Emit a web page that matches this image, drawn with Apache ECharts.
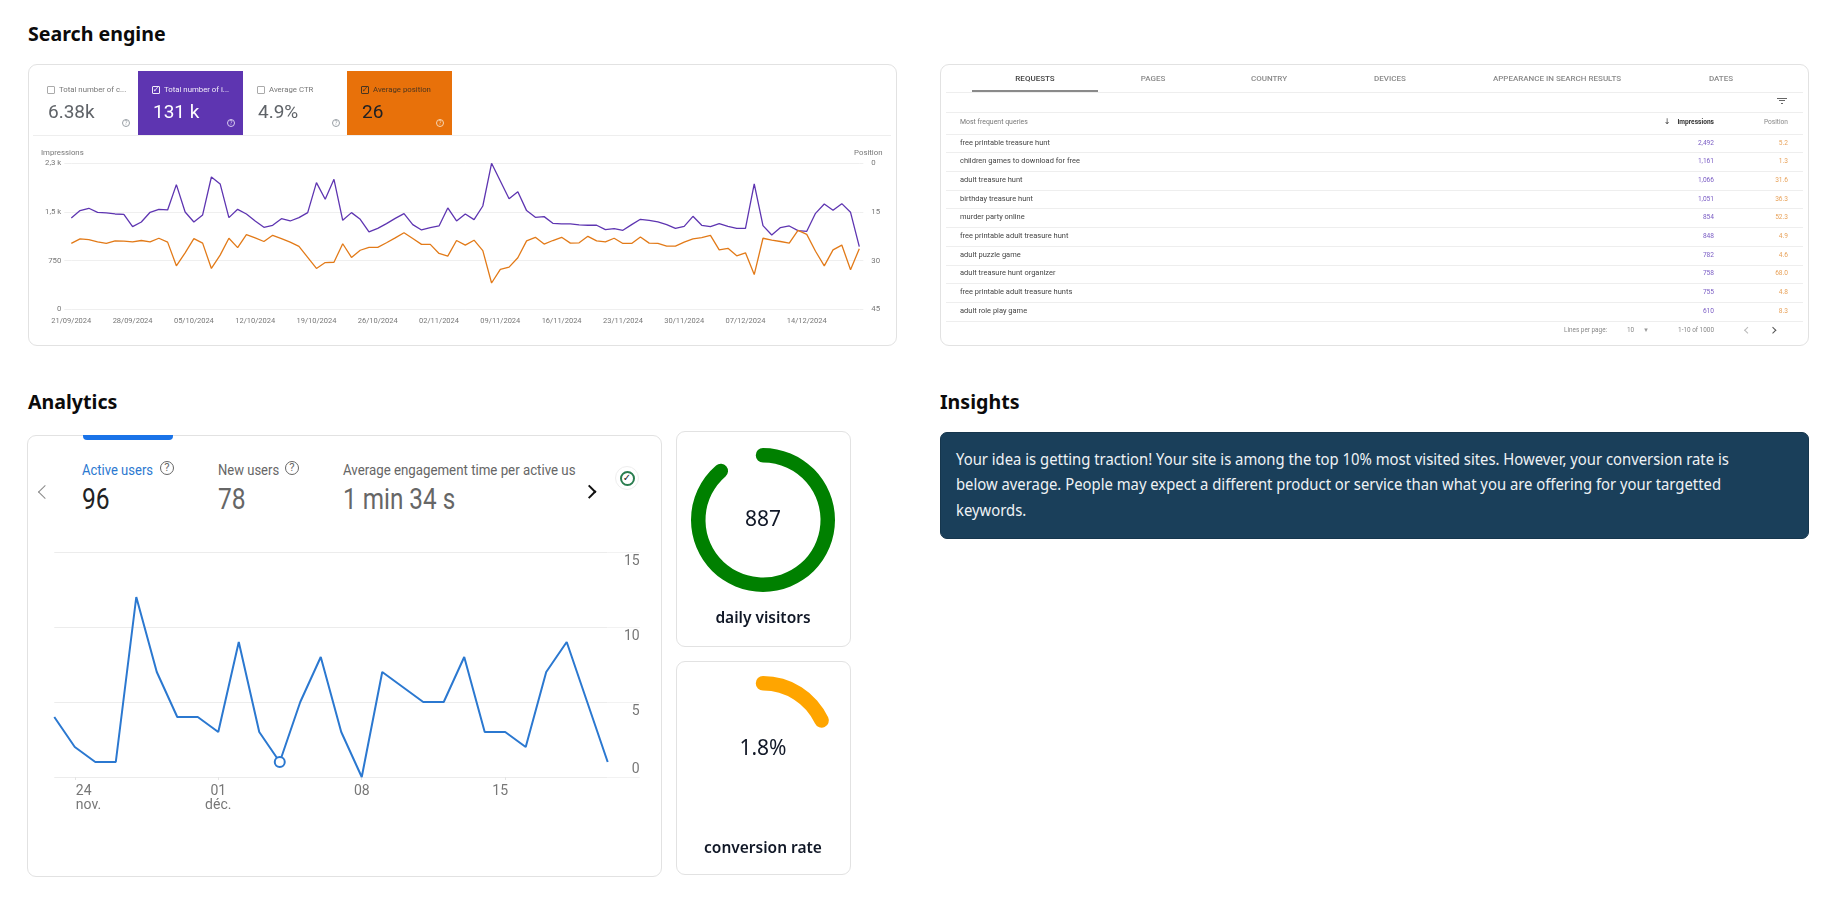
<!DOCTYPE html>
<html>
<head>
<meta charset="utf-8">
<title>Search engine dashboard</title>
<script src="https://cdn.jsdelivr.net/npm/echarts@6/dist/echarts.min.js"></script>
<style>
html, body { margin: 0; padding: 0; background: #fff; overflow: hidden; }
body { width: 1836px; height: 904px; position: relative; font-family: "Noto Sans", sans-serif; color: #111; }
.abs { position: absolute; white-space: nowrap; }
.card { position: absolute; box-sizing: border-box; border: 1px solid #e2e2e2; border-radius: 9px; background: #fff; }
.rule { position: absolute; height: 1px; background: #eeeeee; }
.chart { position: absolute; }
.soft { filter: blur(0.35px); }
</style>
</head>
<body>
<div id="layer"></div>
<div class="chart soft" id="searchChart" style="left:28px;top:140px;width:868px;height:205px"></div>
<div class="chart" id="usersChart" style="left:28px;top:540px;width:630px;height:300px"></div>
<div class="chart" id="visitorsGauge" style="left:677px;top:432px;width:173px;height:214px"></div>
<div class="chart" id="conversionGauge" style="left:677px;top:662px;width:173px;height:212px"></div>
<script>
// search console chart
var searchDates = [
  '21/09/2024','22/09/2024','23/09/2024','24/09/2024','25/09/2024','26/09/2024','27/09/2024',
  '28/09/2024','29/09/2024','30/09/2024','01/10/2024','02/10/2024','03/10/2024','04/10/2024',
  '05/10/2024','06/10/2024','07/10/2024','08/10/2024','09/10/2024','10/10/2024','11/10/2024',
  '12/10/2024','13/10/2024','14/10/2024','15/10/2024','16/10/2024','17/10/2024','18/10/2024',
  '19/10/2024','20/10/2024','21/10/2024','22/10/2024','23/10/2024','24/10/2024','25/10/2024',
  '26/10/2024','27/10/2024','28/10/2024','29/10/2024','30/10/2024','31/10/2024','01/11/2024',
  '02/11/2024','03/11/2024','04/11/2024','05/11/2024','06/11/2024','07/11/2024','08/11/2024',
  '09/11/2024','10/11/2024','11/11/2024','12/11/2024','13/11/2024','14/11/2024','15/11/2024',
  '16/11/2024','17/11/2024','18/11/2024','19/11/2024','20/11/2024','21/11/2024','22/11/2024',
  '23/11/2024','24/11/2024','25/11/2024','26/11/2024','27/11/2024','28/11/2024','29/11/2024',
  '30/11/2024','01/12/2024','02/12/2024','03/12/2024','04/12/2024','05/12/2024','06/12/2024',
  '07/12/2024','08/12/2024','09/12/2024','10/12/2024','11/12/2024','12/12/2024','13/12/2024',
  '14/12/2024','15/12/2024','16/12/2024','17/12/2024','18/12/2024','19/12/2024','20/12/2024'
];
var impressions = [
  1408,1521,1557,1495,1485,1469,1464,1274,1346,1495,
  1541,1531,1921,1500,1346,1454,2039,1932,1413,1541,
  1469,1361,1264,1295,1397,1361,1413,1490,1952,1695,
  2003,1372,1490,1387,1192,1248,1320,1402,1474,1305,
  1223,1259,1284,1562,1361,1469,1382,1592,2250,1978,
  1705,1813,1521,1418,1428,1325,1315,1315,1300,1295,
  1295,1228,1243,1217,1305,1387,1372,1346,1305,1248,
  1279,1433,1295,1274,1320,1279,1248,1248,1932,1289,
  1146,1259,1284,1212,1202,1479,1623,1526,1628,1495,
  966
];
var positions = [
  24.7,23.3,23.5,24.2,24.7,23.9,24.0,24.2,23.8,24.2,
  23.1,24.3,31.6,27.6,23.2,24.6,32.4,28.3,23.1,26.0,
  22.0,23.0,24.1,22.2,23.2,24.3,25.6,29.0,32.4,30.6,
  30.5,24.8,29.0,26.8,25.9,25.9,24.5,23.0,21.4,23.2,
  25.0,25.0,27.8,28.6,23.8,25.2,23.7,26.9,36.9,32.7,
  32.0,29.1,23.9,22.8,24.9,23.8,22.8,24.6,24.5,22.5,
  23.9,24.2,23.1,24.7,24.7,22.7,24.6,24.7,25.5,25.5,
  24.3,23.3,22.9,22.2,26.7,26.2,28.5,27.6,34.3,23.1,
  23.7,24.1,24.6,20.7,21.9,27.1,31.6,26.7,25.2,32.8,
  26.3
];
var impressionTicks = ['0', '750', '1,5 k', '2,3 k'];

// analytics chart
var userDays = [
  '23','24','25','26','27','28','29','30','01','02','03','04','05','06',
  '07','08','09','10','11','12','13','14','15','16','17','18','19','20'
];
var activeUsers = [4,2,1,1,12,7,4,4,3,9,3,1,5,8,3,0,7,6,5,5,8,3,3,2,7,9,5,1];
var hoveredDay = 11;

// queries table
var tabs = ['REQUESTS','PAGES','COUNTRY','DEVICES','APPEARANCE IN SEARCH RESULTS','DATES'];
var queries = [
  'free printable treasure hunt','children games to download for free','adult treasure hunt',
  'birthday treasure hunt','murder party online','free printable adult treasure hunt',
  'adult puzzle game','adult treasure hunt organizer','free printable adult treasure hunts',
  'adult role play game'
];
var queryImpressions = ['2,492','1,161','1,066','1,051','854','848','782','758','755','610'];
var queryPositions = ['5.2','1.3','31.6','36.3','52.3','4.9','4.6','68.0','4.8','8.3'];

// gauges
var dailyVisitors = 887, visitorsMax = 1000;
var conversionRate = 1.8, conversionMax = 10;

var PURPLE = '#5e35b1', ORANGE = '#e8710a', BLUE = '#2b78d0';
var layer = document.getElementById('layer');
var softText = false; // the screenshots in the cards are a bit blurry

function add(cls, css) {
  var d = document.createElement('div');
  d.className = cls;
  d.style.cssText = css;
  layer.appendChild(d);
  return d;
}
// y is the vertical centre of the text, x its left edge (or right edge with o.right, centre with o.mid)
function txt(s, x, y, o) {
  o = o || {};
  var tx = o.right ? 'translateX(-100%) ' : (o.mid ? 'translateX(-50%) ' : '');
  var d = add('abs', 'left:' + x + 'px;top:' + y + 'px;font-family:' + (o.font || 'Roboto') + ',sans-serif;' +
    'font-size:' + (o.size || 12) + 'px;font-weight:' + (o.weight || 400) + ';color:' + (o.color || '#111') + ';' +
    'line-height:1;transform-origin:left center;transform:' + tx + 'translateY(-50%)' + (o.sx ? ' scaleX(' + o.sx + ')' : '') +
    (softText ? ';filter:blur(.3px)' : ''));
  d.textContent = s;
  return d;
}
function box(x, y, w, h, css) {
  return add('abs', 'left:' + x + 'px;top:' + y + 'px;width:' + w + 'px;height:' + h + 'px;box-sizing:border-box;' + (css || ''));
}
function help(x, y, r, color) {
  box(x - r, y - r, 2 * r, 2 * r, 'border:1px solid ' + color + ';border-radius:50%');
  txt('?', x, y, { size: r * 1.6, color: color, mid: true });
}
function chevron(x, y, dir, color, w, s) {
  return box(x - s / 2, y - s / 2, s, s, 'border-top:' + w + 'px solid ' + color + ';border-left:' + w + 'px solid ' + color + ';' +
    'transform:rotate(' + (dir < 0 ? -45 : 135) + 'deg)');
}

// headings
var HEAD = { font: '"Noto Sans"', size: 19.6, weight: 700, color: '#0b0b0b' };
txt('Search engine', 28, 34, HEAD);
txt('Analytics', 28, 402, HEAD);
txt('Insights', 940, 402, HEAD);

// search console card
softText = true;
add('card', 'left:28px;top:64px;width:869px;height:282px');
add('rule', 'left:33px;top:135px;width:858px');
box(138, 71, 105, 64, 'background:' + PURPLE);
box(347, 71, 105, 64, 'background:' + ORANGE);
var tiles = [
  { x: 47, label: 'Total number of c...', value: '6.38k', text: '#5f6368', sub: '#777', ic: '#9aa0a6' },
  { x: 152, label: 'Total number of i...', value: '131 k', text: '#fff', sub: '#f1ecf9', ic: '#d9cdf0' },
  { x: 257, label: 'Average CTR', value: '4.9%', text: '#5f6368', sub: '#777', ic: '#9aa0a6' },
  { x: 361, label: 'Average position', value: '26', text: '#202124', sub: '#4a3520', ic: '#f6d6b4' }
];
tiles.forEach(function (t) {
  var checked = t.text !== '#5f6368';
  box(t.x, 86, 8, 8, 'border:1px solid ' + (checked ? t.sub : '#aaa') + ';border-radius:1px');
  if (checked) txt('✓', t.x + 4, 90, { size: 8, color: t.sub, mid: true, font: '"DejaVu Sans"' });
  txt(t.label, t.x + 12, 90, { size: 7.8, color: t.sub });
  txt(t.value, t.x + 1, 111, { size: 19, color: t.text });
  help(t.x + 79, 123, 4, t.ic);
});

// queries card
add('card', 'left:940px;top:64px;width:869px;height:282px');
var tabX = [1035, 1153, 1269, 1390, 1557, 1721];
tabs.forEach(function (t, i) {
  txt(t, tabX[i], 79, { size: 8, weight: 500, color: i === 0 ? '#444' : '#8a8a8a', mid: true });
});
box(972, 90, 126, 1.5, 'background:#8a8a8a');
[92, 112, 134].forEach(function (y) { add('rule', 'left:946px;width:857px;top:' + y + 'px'); });
[0, 1, 2].forEach(function (i) {
  box(1782 - (5 - i * 2), 98 + i * 2.3, (5 - i * 2) * 2, 1, 'background:#666');
});
txt('Most frequent queries', 960, 122, { size: 6.6, color: '#777', sx: 1.05 });
txt('Impressions', 1714, 122, { size: 6.6, weight: 700, color: '#333', right: true });
txt('↓', 1667, 122, { size: 8, color: '#333', mid: true, font: '"DejaVu Sans"' });
txt('Position', 1788, 122, { size: 6.6, color: '#888', right: true });
queries.forEach(function (q, i) {
  var y = 142.5 + i * 18.7;
  add('rule', 'left:946px;width:857px;top:' + (152 + i * 18.75) + 'px');
  txt(q, 960, y, { size: 6.8, color: '#444', sx: 1.1 });
  txt(queryImpressions[i], 1714, y, { size: 6.6, color: '#7a5cc4', right: true });
  txt(queryPositions[i], 1788, y, { size: 6.6, color: '#e8a25a', right: true });
});
txt('Lines per page:', 1564, 330, { size: 6.4, color: '#888' });
txt('10', 1627, 330, { size: 6.4, color: '#888' });
txt('▾', 1646, 330, { size: 7, color: '#999', mid: true, font: '"DejaVu Sans"' });
txt('1-10 of 1000', 1714, 330, { size: 6.4, color: '#888', right: true });
chevron(1747, 330, -1, '#bbb', 1, 4.5);
chevron(1773, 330, 1, '#555', 1, 4.5);

// analytics card
softText = false;
add('card', 'left:27px;top:435px;width:635px;height:442px');
box(83, 435, 90, 5, 'background:#1a73e8;border-radius:0 0 4px 4px');
chevron(45, 492, -1, '#8a8a8a', 1.6, 10);
chevron(590, 492, 1, '#111', 2, 9.5);
txt('Active users', 82, 470, { size: 14, color: BLUE, sx: 0.93 });
help(167, 468, 7, '#666');
txt('96', 82, 499, { size: 30, color: '#222', sx: 0.82 });
txt('New users', 218, 470, { size: 14, color: '#666', sx: 0.93 });
help(292, 468, 7, '#666');
txt('78', 218, 499, { size: 30, color: '#666', sx: 0.82 });
txt('Average engagement time per active us', 343, 470, { size: 14, color: '#666', sx: 0.948 });
txt('1 min 34 s', 343, 499, { size: 30, color: '#666', sx: 0.81 });
box(615, 466, 24, 24, 'border:1px solid #eee;border-radius:50%');
box(619.5, 470.5, 15, 15, 'border:2px solid #2a7d4f;border-radius:50%');
txt('✓', 627, 478, { size: 10, weight: 700, color: '#222', mid: true, font: '"DejaVu Sans"' });

// metric cards and insight box
add('card', 'left:676px;top:431px;width:175px;height:216px');
add('card', 'left:676px;top:661px;width:175px;height:214px');
box(940, 432, 869, 107, 'background:#1a3f5a;border-radius:7px;border:1px solid #16364d');
['Your idea is getting traction! Your site is among the top 10% most visited sites. However, your conversion rate is',
 'below average. People may expect a different product or service than what you are offering for your targetted',
 'keywords.'].forEach(function (l, i) {
  txt(l, 956, 460 + i * 25.3, { font: '"Noto Sans"', size: 15.5, color: '#eef2f5', sx: 0.957 });
});

var searchChart = echarts.init(document.getElementById('searchChart'));
searchChart.setOption({
  animation: false,
  textStyle: { fontFamily: 'Roboto' },
  grid: { left: 43.3, right: 36.7, top: 23.3, bottom: 35.7 },
  xAxis: {
    type: 'category', data: searchDates, boundaryGap: false,
    axisLine: { show: false }, axisTick: { show: false },
    axisLabel: { interval: 6, fontSize: 7.5, color: '#777', margin: 8 }
  },
  yAxis: [{
    type: 'value', min: 0, max: 2250, interval: 750,
    name: 'Impressions', nameLocation: 'end', nameGap: 6,
    nameTextStyle: { fontSize: 7.8, color: '#777', align: 'center', padding: [0, 18, 0, 0] },
    axisLine: { show: false },
    axisTick: { show: true, length: 7, lineStyle: { color: '#efefef' } },
    splitLine: { lineStyle: { color: '#efefef' } },
    axisLabel: { fontSize: 7.8, color: '#777', margin: 10, formatter: function (v) { return impressionTicks[v / 750]; } }
  }, {
    type: 'value', min: 0, max: 45, interval: 15, inverse: true, position: 'right',
    name: 'Position', nameLocation: 'start', nameGap: 6,
    nameTextStyle: { fontSize: 7.8, color: '#777', align: 'center', padding: [0, 0, 0, 18] },
    axisLine: { show: false },
    axisTick: { show: true, length: 4, lineStyle: { color: '#efefef' } },
    splitLine: { show: false },
    axisLabel: { fontSize: 7.8, color: '#777', margin: 12 }
  }],
  series: [
    { name: 'Impressions', type: 'line', data: impressions, yAxisIndex: 0, symbol: 'none', lineStyle: { width: 1.3, color: PURPLE } },
    { name: 'Position', type: 'line', data: positions, yAxisIndex: 1, symbol: 'none', lineStyle: { width: 1.3, color: '#e27a18' } }
  ]
});

var usersChart = echarts.init(document.getElementById('usersChart'));
var labelled = { '24': '{l|24}\n{l|nov.}', '01': '01\ndéc.', '08': '08', '15': '{r|15}' };
usersChart.setOption({
  animation: false,
  textStyle: { fontFamily: '"Liberation Sans Narrow", Roboto' },
  grid: { left: 26.3, right: 50.3, top: 12, bottom: 63 },
  xAxis: {
    type: 'category', data: userDays, boundaryGap: false,
    axisLine: { show: false },
    axisTick: { show: true, length: 3, lineStyle: { color: '#e4e4e4' }, interval: function (i, v) { return labelled[v] !== undefined; } },
    axisLabel: {
      fontSize: 14, color: '#777', margin: 7, lineHeight: 14,
      interval: function (i, v) { return labelled[v] !== undefined; },
      formatter: function (v) { return labelled[v]; },
      rich: {
        l: { fontSize: 14, color: '#777', lineHeight: 14, width: 24, align: 'left', padding: [0, 0, 0, 26] },
        r: { fontSize: 14, color: '#777', lineHeight: 14, padding: [0, 10, 0, 0] }
      }
    }
  },
  yAxis: {
    type: 'value', position: 'right', min: 0, max: 15, interval: 5,
    axisLine: { show: false },
    axisTick: { show: true, length: 32, lineStyle: { color: '#f2f2f2' } },
    splitLine: { lineStyle: { color: '#ececec' } },
    axisLabel: {
      fontSize: 14, color: '#777', align: 'right', margin: 32,
      verticalAlign: 'top', verticalAlignMinLabel: 'bottom', padding: [2, 0, 1, 0]
    }
  },
  series: [{
    type: 'line', symbol: 'none',
    data: activeUsers.map(function (v, i) {
      return i === hoveredDay
        ? { value: v, symbol: 'circle', symbolSize: 10, itemStyle: { color: '#fff', borderColor: BLUE, borderWidth: 2 } }
        : v;
    }),
    lineStyle: { width: 2, color: BLUE }
  }]
});

function gauge(id, value, max, color, name, unit, detailY, titleY, cy) {
  var c = echarts.init(document.getElementById(id));
  c.setOption({
    animation: false,
    series: [{
      type: 'gauge', center: [86, cy], radius: 72,
      min: 0, max: max, startAngle: 90, endAngle: -270,
      pointer: { show: false },
      axisLine: { lineStyle: { width: 14.5, color: [[1, 'rgba(0,0,0,0)']] } },
      progress: { show: true, width: 14.5, roundCap: true, itemStyle: { color: color } },
      axisTick: { show: false }, splitLine: { show: false }, axisLabel: { show: false },
      title: { offsetCenter: [0, titleY], fontFamily: 'Noto Sans', fontSize: 15.5, fontWeight: 600, color: '#111827' },
      detail: { offsetCenter: [0, detailY], fontFamily: 'Noto Sans', fontSize: 21, fontWeight: 400, color: '#111827', formatter: '{value}' + unit },
      data: [{ value: value, name: name }]
    }]
  });
}
gauge('visitorsGauge', dailyVisitors, visitorsMax, 'green', 'daily visitors', '', 0, 99, 88);
gauge('conversionGauge', conversionRate, conversionMax, 'orange', 'conversion rate', '%', 1, 101, 86);
</script>
</body>
</html>
